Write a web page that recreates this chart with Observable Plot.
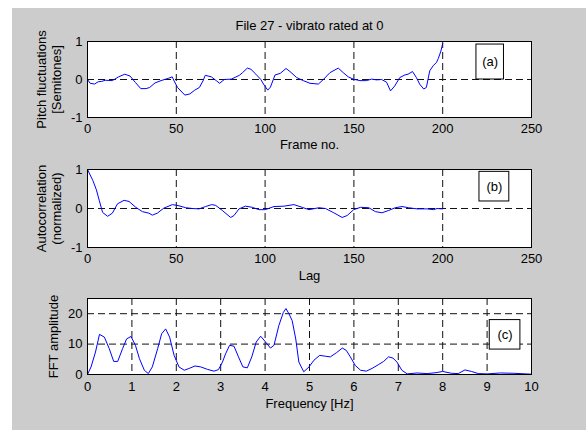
<!DOCTYPE html>
<html><head><meta charset="utf-8">
<script src="https://cdn.jsdelivr.net/npm/d3@7"></script>
<script src="https://cdn.jsdelivr.net/npm/@observablehq/plot@0.6"></script>
<style>
body{margin:0;background:#fff;}
#fig{position:relative;width:586px;height:430px;overflow:hidden;background:#fff;}
#bg{position:absolute;left:12px;top:8px;width:574px;height:422px;background:#cccccc;}
.panel{position:absolute;left:0;}
</style></head><body>
<div id="fig"><div id="bg"></div>
<div class="panel" id="pa" style="top:0px"></div>
<div class="panel" id="pb" style="top:155px"></div>
<div class="panel" id="pc" style="top:285px"></div>
</div>
<script>
// ---- data ----
const title = "File 27 - vibrato rated at 0";
const frameNo = [0,1.5,4,6,8,10,14,17.5,21,24,27,30,33,35,38,42,45.5,47.7,48.8,50.7,54.8,57.6,60.4,63,65,66.3,69.7,72.5,74.4,77,81,85.5,87.3,90,92,94.8,97.6,99.5,101.5,103,105.6,108.5,111.8,114,117.8,121.5,125.3,130,132.8,136.5,141.2,144,146.8,149.6,153.4,157,160,162.8,165.6,168.4,170.6,173,175.8,178.7,180.5,183,185.2,187,189.3,190.8,192.7,194.6,196.5,197.5,199,200];
const pitch = [0,-0.1,-0.12,-0.06,-0.05,-0.02,-0.03,0.07,0.14,0.09,-0.08,-0.24,-0.24,-0.21,-0.09,-0.02,0.03,0.07,-0.04,-0.21,-0.41,-0.38,-0.28,-0.21,-0.04,0.11,0.07,-0.03,-0.1,0,0.01,0.11,0.18,0.3,0.27,0.14,0,-0.15,-0.28,-0.2,0.12,0.16,0.29,0.21,0.05,-0.03,-0.1,-0.12,0,0.18,0.3,0.18,0.07,0.01,-0.03,-0.03,0.01,-0.01,0,-0.07,-0.3,-0.17,0.05,0.12,0.14,0.21,0.05,-0.12,-0.25,-0.21,0.23,0.36,0.45,0.55,0.75,0.95];
const lag = [0,3,5,6.6,8.5,11.3,14,16.9,20.6,23.4,27.2,30.9,34.6,36.5,39.3,43,47.8,51.5,55.3,59,62.8,66.5,69.9,72.2,75.9,80.6,82.5,85.3,89,92.8,96.5,100,105,110.6,116.2,120.9,124.7,130.3,134,138.7,143.4,146.2,149.9,153.7,158.4,162.1,165.8,169.6,173.3,177.1,180.8,185.5,191.1,194.9,196.8,200];
const autocorr = [1,0.72,0.48,0.21,-0.1,-0.2,-0.12,0.12,0.21,0.18,0.03,-0.08,-0.12,-0.17,-0.12,0.01,0.1,0.07,0.02,0,-0.01,0.05,0.1,0.08,-0.05,-0.23,-0.18,-0.01,0.06,0.03,-0.03,-0.03,0.05,0.06,0.1,0.03,-0.03,0.02,0,-0.11,-0.23,-0.18,-0.03,0.03,0.02,-0.08,-0.11,-0.05,0.02,0.05,0.02,-0.01,-0.01,-0.03,0,-0.01];
const freq = [0,0.08,0.18,0.27,0.38,0.49,0.59,0.68,0.79,0.88,0.98,1.08,1.17,1.28,1.37,1.46,1.58,1.67,1.76,1.85,1.95,2.06,2.18,2.29,2.42,2.55,2.7,2.85,2.95,3.04,3.11,3.2,3.3,3.4,3.5,3.6,3.7,3.8,3.9,4.01,4.12,4.2,4.31,4.41,4.47,4.54,4.61,4.69,4.76,4.87,4.99,5.1,5.23,5.36,5.47,5.61,5.74,5.83,5.92,6.03,6.15,6.28,6.41,6.56,6.67,6.78,6.88,6.97,7.08,7.2,7.42,7.65,7.85,8.0,8.2,8.35,8.5,8.65,8.8,9.0,9.3,9.6,10];
const fftAmp = [0,2.5,7.4,13.2,12.3,8.5,4.3,4.3,8.5,11.7,12.5,9.6,5.2,1.4,0.3,2.5,8.5,13.4,15,12.3,6.3,2.5,1.4,2,2.8,2.5,1.7,1.1,1.6,4.1,6.8,9.6,9.3,5.8,2.5,2.2,5.8,10.7,12.6,10.7,8.7,9.6,16.1,20.4,21.7,19.9,17.7,11.7,4.1,0.9,2.5,4.7,6.3,6.0,5.8,7.2,8.7,7.9,5.8,3.0,1.4,1.1,2.0,3.3,4.3,5.8,5.4,4.1,1.4,0.2,0.5,0.3,0.6,1.0,0.4,0.3,1.5,1.0,0.3,0.2,0.5,0.4,0.1];
const lagTicks = [0,50,100,150,200,250];
const freqTicks = [0,1,2,3,4,5,6,7,8,9,10];
const unitTicks = [-1,0,1];
const ampTicks = [0,10,20];

// ---- drawing ----
const FONT = "Liberation Sans, Arial, Helvetica, sans-serif";
const DASH = "7,4";
const style = {background:"transparent", fontFamily: FONT, fontSize:"13px", color:"black", overflow:"visible"};
const fmt = d => String(d);
const T = {fontSize: 13, fill: "black", textAnchor: "middle", lineAnchor: "middle", text: d => d};

function panel({el, height, marginTop, marginBottom, xDomain, xTicks, yDomain, yTicks, xGrid, yGrid, xs, ys, xLabel, yLabel, yLabelDx, labelDy, box, boxText, tickPad, extra = []}) {
  const data = xs.map((x, i) => ({x, y: ys[i]}));
  const p = Plot.plot({
    width: 586, height, marginLeft: 87, marginRight: 55, marginTop, marginBottom,
    style,
    x: {domain: xDomain, ticks: xTicks, tickSize: 0, tickPadding: tickPad, tickFormat: fmt, label: null},
    y: {domain: yDomain, ticks: yTicks, tickSize: 0, tickPadding: 5, tickFormat: fmt, label: null},
    marks: [
      Plot.frame({fill: "white"}),
      Plot.ruleX(xGrid, {stroke: "#111", strokeWidth: 1, strokeDasharray: DASH}),
      Plot.ruleY(yGrid, {stroke: "#111", strokeWidth: 1, strokeDasharray: DASH}),
      Plot.line(data, {x: "x", y: "y", stroke: "#0000ff", strokeWidth: 1}),
      Plot.rect([box], {x1: "x1", x2: "x2", y1: "y1", y2: "y2", fill: "white", stroke: "black", strokeWidth: 1}),
      Plot.text([boxText], {...T, x: (box.x1 + box.x2) / 2, y: (box.y1 + box.y2) / 2}),
      Plot.frame({stroke: "black", strokeWidth: 1}),
      Plot.text([xLabel], {...T, frameAnchor: "bottom", dy: labelDy}),
      Plot.text([yLabel], {...T, frameAnchor: "left", dx: yLabelDx, rotate: -90, lineHeight: 1.2}),
      ...extra
    ]
  });
  document.getElementById(el).appendChild(p);
}

panel({
  el: "pa", height: 155, marginTop: 41, marginBottom: 38,
  xDomain: [0, 250], xTicks: lagTicks, yDomain: [-1, 1], yTicks: unitTicks,
  xGrid: [50, 100, 150, 200], yGrid: [0],
  xs: frameNo, ys: pitch,
  xLabel: "Frame no.", yLabel: "Pitch fluctuations\n[Semitones]", yLabelDx: -39, labelDy: 27, tickPad: 6,
  box: {x1: 219, x2: 234.5, y1: 0, y2: 0.92}, boxText: "(a)",
  extra: [Plot.text([title], {...T, frameAnchor: "top", dy: -16})]
});
panel({
  el: "pb", height: 130, marginTop: 14, marginBottom: 38,
  xDomain: [0, 250], xTicks: lagTicks, yDomain: [-1, 1], yTicks: unitTicks,
  xGrid: [50, 100, 150, 200], yGrid: [0],
  xs: lag, ys: autocorr,
  xLabel: "Lag", yLabel: "Autocorrelation\n(normalized)", yLabelDx: -39, labelDy: 28, tickPad: 6,
  box: {x1: 220.7, x2: 237.5, y1: 0.18, y2: 0.94}, boxText: "(b)"
});
panel({
  el: "pc", height: 145, marginTop: 13, marginBottom: 56,
  xDomain: [0, 10], xTicks: freqTicks, yDomain: [0, 25], yTicks: ampTicks,
  xGrid: [1, 2, 3, 4, 5, 6, 7, 8, 9], yGrid: [10, 20],
  xs: freq, ys: fftAmp,
  xLabel: "Frequency [Hz]", yLabel: "FFT amplitude", yLabelDx: -35, labelDy: 29, tickPad: 7,
  box: {x1: 9.06, x2: 9.75, y1: 8.2, y2: 17.9}, boxText: "(c)"
});
</script>
</body></html>
